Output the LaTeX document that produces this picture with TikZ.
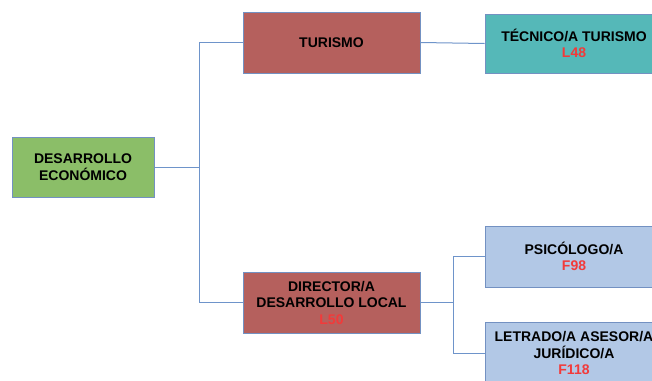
\documentclass[tikz,border=0pt]{standalone}
\usepackage{fontspec}
\setmainfont{Liberation Sans}
\definecolor{bgreen}{HTML}{8BBE68}
\definecolor{bred}{HTML}{B5605D}
\definecolor{bteal}{HTML}{55B8B8}
\definecolor{bblue}{HTML}{B2C8E6}
\definecolor{bborder}{HTML}{7391C2}
\definecolor{bline}{HTML}{6E94CA}
\definecolor{codered}{HTML}{F23A3A}
\tikzset{
  box/.style={draw=bborder, line width=1pt, minimum width=177pt, minimum height=61pt,
    align=center, inner sep=2pt, font=\fontsize{14}{16.5}\selectfont\bfseries},
  conn/.style={draw=bline, line width=1pt},
}
\newcommand{\code}[1]{{\color{codered}#1}}
\begin{document}
\begin{tikzpicture}[x=1pt,y=-1pt]
\useasboundingbox (0,0) rectangle (652,380);
\clip (0,0) rectangle (652,380);
\node[box, fill=bgreen, minimum width=142pt, minimum height=60pt] (de) at (83,167) {DESARROLLO\\ECONÓMICO};
\node[box, fill=bred] (tur) at (331.5,42.5) {TURISMO};
\node[box, fill=bteal, minimum width=178pt, minimum height=59pt] (tec) at (574,43.5) {TÉCNICO/A TURISMO\\\code{L48}};
\node[box, fill=bred] (dir) at (331.5,302.5) {DIRECTOR/A\\DESARROLLO LOCAL\\\code{L50}};
\node[box, fill=bblue, minimum width=178pt] (psi) at (574,256.5) {PSICÓLOGO/A\\\code{F98}};
\node[box, fill=bblue, minimum width=178pt] (let) at (574,353) {LETRADO/A ASESOR/A\\JURÍDICO/A\\\code{F118}};
\coordinate (j1) at (199,167);
\coordinate (j2) at (453,302.5);
\draw[conn] (de.east) -- (j1);
\draw[conn] (j1) |- (tur.west);
\draw[conn] (j1) |- (dir.west);
\draw[conn] (tur.east) -- (tec.west);
\draw[conn] (dir.east) -- (j2);
\draw[conn] (j2) |- (psi.west);
\draw[conn] (j2) |- (let.west);
\end{tikzpicture}
\end{document}
